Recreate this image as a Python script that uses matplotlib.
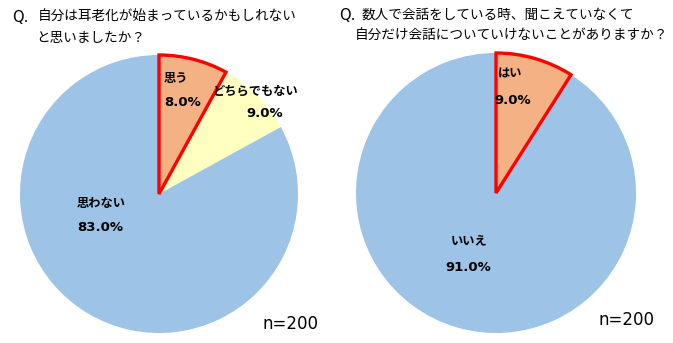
import matplotlib
matplotlib.use("Agg")
import matplotlib.pyplot as plt

plt.rcParams['font.family'] = ['Noto Sans CJK JP', 'DejaVu Sans']

# left question
q1_labels = ["思う", "どちらでもない", "思わない"]
q1_values = [8.0, 9.0, 83.0]
# right question
q2_labels = ["はい", "いいえ"]
q2_values = [9.0, 91.0]

BLUE = "#9DC3E6"
ORANGE = "#F4B183"
YELLOW = "#FFFFC0"
RED = "#FF0000"

W, H = 673, 343
fig = plt.figure(figsize=(W / 100, H / 100), dpi=100)


def pie_axes(cx, cy, r):
    return fig.add_axes([(cx - r) / W, (H - cy - r) / H, 2 * r / W, 2 * r / H])


def draw(ax, values, colors, label_pos, labels):
    wedges, _ = ax.pie(values, colors=colors, startangle=90, counterclock=False,
                       radius=1, wedgeprops=dict(linewidth=0))
    w = wedges[0]
    w.set_edgecolor(RED)
    w.set_linewidth(2.4)
    w.set_zorder(5)
    for (lx, ly, px, py), lab, v in zip(label_pos, labels, values):
        ax.text(lx, ly, lab, ha="center", va="center", fontsize=8.8,
                fontweight="bold", zorder=6)
        ax.text(px, py, f"{v:.1f}%", ha="center", va="center", fontsize=9.5,
                fontweight="bold", family="DejaVu Sans", zorder=6)
    ax.set_xlim(-1, 1)
    ax.set_ylim(-1, 1)
    ax.set_aspect("equal")
    ax.axis("off")


ax1 = pie_axes(159, 194, 139)
draw(ax1, q1_values, [ORANGE, YELLOW, BLUE],
     [(0.12, 0.83, 0.17, 0.66), (0.69, 0.74, 0.76, 0.58),
      (-0.42, -0.07, -0.42, -0.24)], q1_labels)

ax2 = pie_axes(496, 193, 140)
draw(ax2, q2_values, [ORANGE, BLUE],
     [(0.10, 0.85, 0.12, 0.66), (-0.19, -0.35, -0.2, -0.53)], q2_labels)

TFS = 9.8
fig.text(12 / W, 1 - 17 / H, "Q.", fontsize=10.5, va="center", ha="left",
         family="DejaVu Sans")
fig.text(38 / W, 1 - 17 / H, "自分は耳老化が始まっているかもしれない",
         fontsize=TFS, va="center", ha="left")
fig.text(36 / W, 1 - 38 / H, "と思いましたか？", fontsize=TFS, va="center", ha="left")
fig.text(339 / W, 1 - 15 / H, "Q.", fontsize=10.5, va="center", ha="left",
         family="DejaVu Sans")
fig.text(362 / W, 1 - 15 / H, "数人で会話をしている時、聞こえていなくて",
         fontsize=TFS, va="center", ha="left")
fig.text(355 / W, 1 - 36 / H, "自分だけ会話についていけないことがありますか？",
         fontsize=TFS, va="center", ha="left")

fig.text(291 / W, 1 - 324 / H, "n=200", fontsize=12, ha="center", va="center",
         family="DejaVu Sans")
fig.text(627 / W, 1 - 320 / H, "n=200", fontsize=12, ha="center", va="center",
         family="DejaVu Sans")

fig.savefig("out.png", dpi=100)
